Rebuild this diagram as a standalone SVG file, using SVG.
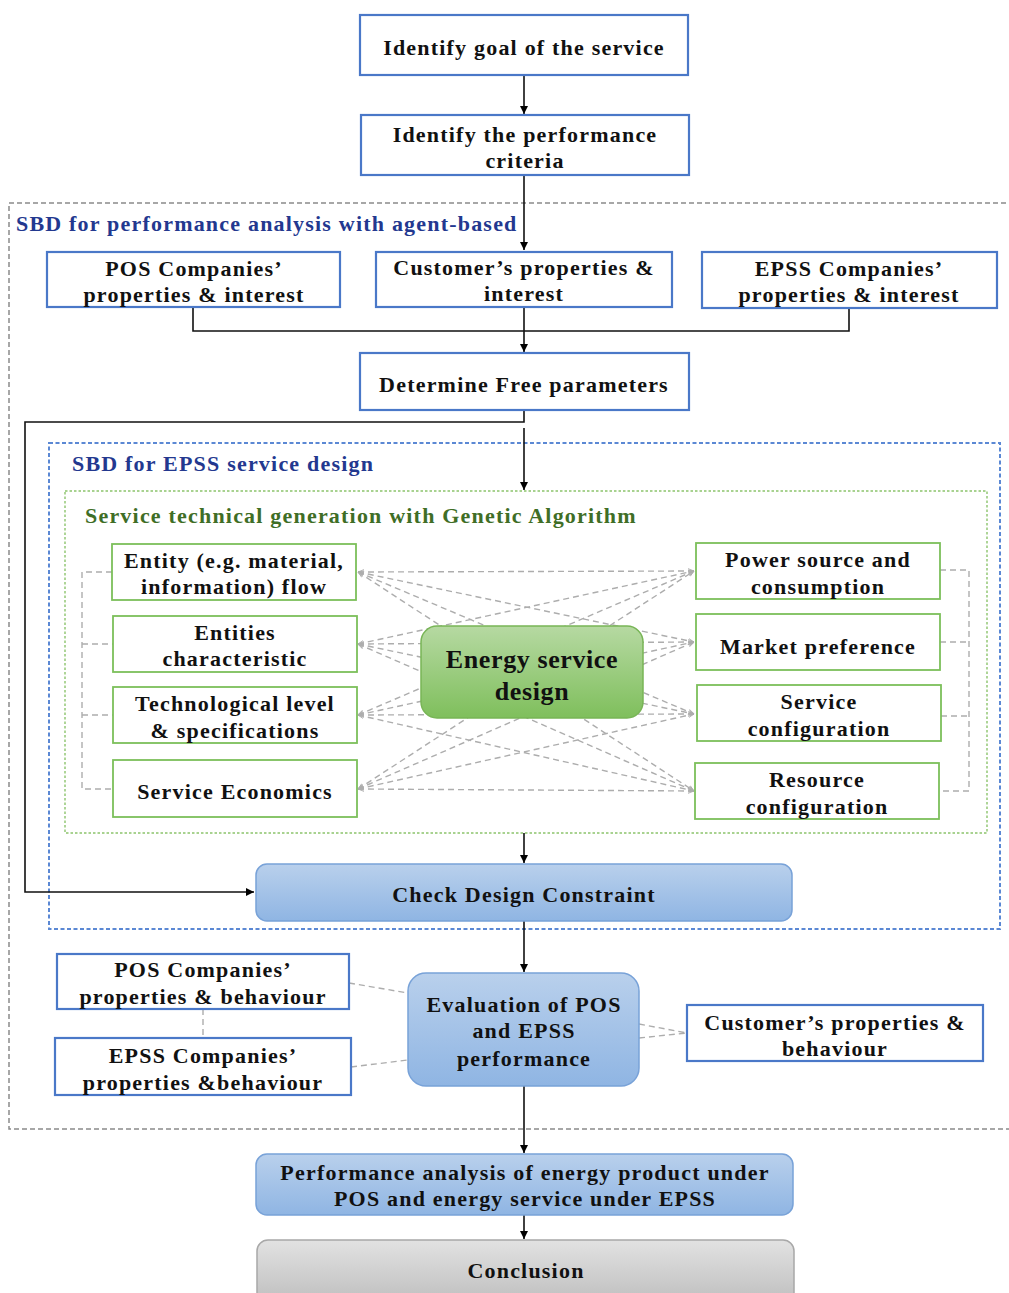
<svg xmlns="http://www.w3.org/2000/svg" width="1009" height="1293" viewBox="0 0 1009 1293">
  <defs>
    <linearGradient id="gBlue" x1="0" y1="0" x2="0" y2="1">
      <stop offset="0" stop-color="#B9D0EC"/>
      <stop offset="1" stop-color="#8FB5E3"/>
    </linearGradient>
    <linearGradient id="gGreen" x1="0" y1="0" x2="0" y2="1">
      <stop offset="0" stop-color="#B6D9A2"/>
      <stop offset="1" stop-color="#7FBF5C"/>
    </linearGradient>
    <linearGradient id="gGrey" x1="0" y1="0" x2="0" y2="1">
      <stop offset="0" stop-color="#E2E2E2"/>
      <stop offset="1" stop-color="#BEBEBE"/>
    </linearGradient>
    <marker id="arr" viewBox="0 0 10 10" refX="10" refY="5" markerWidth="8" markerHeight="8" markerUnits="userSpaceOnUse" orient="auto">
      <path d="M0,0 L10,5 L0,10 Z" fill="#000"/>
    </marker>
    <marker id="garr" viewBox="0 0 10 10" refX="10" refY="5" markerWidth="6" markerHeight="6" markerUnits="userSpaceOnUse" orient="auto-start-reverse">
      <path d="M0,1 L10,5 L0,9" fill="none" stroke="#ADADAD" stroke-width="1.5"/>
    </marker>
    <style>
      text { font-family: "Liberation Serif", "DejaVu Serif", serif; font-weight: bold; font-size: 22px; fill: #111; text-anchor: middle; letter-spacing: 1.2px; }
      .lbl { fill: #23388F; text-anchor: start; }
      .glbl { fill: #3F6E26; text-anchor: start; }
      .bbox { fill: #fff; stroke: #4A78C8; stroke-width: 2.2; }
      .gbox { fill: #fff; stroke: #7CBF5A; stroke-width: 1.8; }
      .blue { fill: url(#gBlue); stroke: #78A2D8; stroke-width: 1.5; }
      .green { fill: url(#gGreen); stroke: #78B556; stroke-width: 1.5; }
      .grey { fill: url(#gGrey); stroke: #A8A8A8; stroke-width: 1.5; }
      .flow { fill: none; stroke: #111; stroke-width: 1.6; }
      .dash { fill: none; stroke: #ADADAD; stroke-width: 1.4; stroke-dasharray: 6 4; }
      .big { font-size: 26px; letter-spacing: 0.6px; }
    </style>
  </defs>

  <rect width="1009" height="1293" fill="#fff"/>

  <!-- grouping frames -->
  <g id="frames">
    <rect x="9" y="203" width="1010" height="926" fill="none" stroke="#8A8A8A" stroke-width="1.5" stroke-dasharray="5 3"/>
    <text class="lbl" x="16" y="231">SBD for performance analysis with agent-based</text>
    <rect x="49" y="443" width="951" height="486" fill="none" stroke="#5B88D4" stroke-width="2" stroke-dasharray="4 2.5"/>
    <text class="lbl" x="72" y="471">SBD for EPSS service design</text>
    <rect x="65" y="491" width="922" height="342" fill="none" stroke="#8CC46C" stroke-width="1.4" stroke-dasharray="2.5 2"/>
    <text class="glbl" x="85" y="523">Service technical generation with Genetic Algorithm</text>
  </g>

  <!-- connectors -->
  <g id="connectors">
    <line class="flow" x1="524" y1="75" x2="524" y2="114" marker-end="url(#arr)"/>
    <line class="flow" x1="524" y1="175" x2="524" y2="250" marker-end="url(#arr)"/>
    <polyline class="flow" points="193,307 193,331 849,331 849,308"/>
    <line class="flow" x1="524" y1="307" x2="524" y2="352" marker-end="url(#arr)"/>
    <polyline class="flow" points="524,410 524,422 25,422 25,892 254,892" marker-end="url(#arr)"/>
    <line class="flow" x1="524" y1="428" x2="524" y2="490" marker-end="url(#arr)"/>
    <line class="flow" x1="524" y1="833" x2="524" y2="863" marker-end="url(#arr)"/>
    <line class="flow" x1="524" y1="921" x2="524" y2="972" marker-end="url(#arr)"/>
    <line class="flow" x1="524" y1="1086" x2="524" y2="1153" marker-end="url(#arr)"/>
    <line class="flow" x1="524" y1="1215" x2="524" y2="1239" marker-end="url(#arr)"/>

    <!-- side brackets -->
    <polyline class="dash" points="112,572 82,572 82,789 113,789"/>
    <line class="dash" x1="82" y1="644" x2="113" y2="644"/>
    <line class="dash" x1="82" y1="715" x2="113" y2="715"/>
    <polyline class="dash" points="940,570 969,570 969,791 939,791"/>
    <line class="dash" x1="940" y1="642" x2="969" y2="642"/>
    <line class="dash" x1="941" y1="716" x2="969" y2="716"/>

    <!-- all-to-all design links -->
    <g marker-start="url(#garr)" marker-end="url(#garr)">
      <line class="dash" x1="358" y1="572" x2="694" y2="571"/>
      <line class="dash" x1="358" y1="572" x2="694" y2="642"/>
      <line class="dash" x1="358" y1="572" x2="694" y2="714"/>
      <line class="dash" x1="358" y1="572" x2="694" y2="791"/>
      <line class="dash" x1="358" y1="644" x2="694" y2="571"/>
      <line class="dash" x1="358" y1="644" x2="694" y2="642"/>
      <line class="dash" x1="358" y1="644" x2="694" y2="714"/>
      <line class="dash" x1="358" y1="644" x2="694" y2="791"/>
      <line class="dash" x1="358" y1="715" x2="694" y2="571"/>
      <line class="dash" x1="358" y1="715" x2="694" y2="642"/>
      <line class="dash" x1="358" y1="715" x2="694" y2="714"/>
      <line class="dash" x1="358" y1="715" x2="694" y2="791"/>
      <line class="dash" x1="358" y1="789" x2="694" y2="571"/>
      <line class="dash" x1="358" y1="789" x2="694" y2="642"/>
      <line class="dash" x1="358" y1="789" x2="694" y2="714"/>
      <line class="dash" x1="358" y1="789" x2="694" y2="791"/>
    </g>

    <!-- evaluation links -->
    <line class="dash" x1="349" y1="983" x2="408" y2="993"/>
    <line class="dash" x1="351" y1="1067" x2="408" y2="1060"/>
    <line class="dash" x1="203" y1="1009" x2="203" y2="1038"/>
    <line class="dash" x1="639" y1="1024" x2="687" y2="1033"/>
    <line class="dash" x1="639" y1="1038" x2="687" y2="1033"/>
  </g>

  <!-- nodes -->
  <g id="goal">
    <rect class="bbox" x="360" y="15" width="328" height="60"/>
    <text x="524" y="55">Identify goal of the service</text>
  </g>
  <g id="criteria">
    <rect class="bbox" x="361" y="115" width="328" height="60"/>
    <text x="525" y="142">Identify the performance</text>
    <text x="525" y="168">criteria</text>
  </g>
  <g id="pos-interest">
    <rect class="bbox" x="47" y="252" width="293" height="55"/>
    <text x="194" y="276">POS Companies’</text>
    <text x="194" y="302">properties &amp; interest</text>
  </g>
  <g id="customer-interest">
    <rect class="bbox" x="376" y="252" width="296" height="55"/>
    <text x="524" y="275">Customer’s properties &amp;</text>
    <text x="524" y="301">interest</text>
  </g>
  <g id="epss-interest">
    <rect class="bbox" x="702" y="252" width="295" height="56"/>
    <text x="849" y="276">EPSS Companies’</text>
    <text x="849" y="302">properties &amp; interest</text>
  </g>
  <g id="free-parameters">
    <rect class="bbox" x="360" y="353" width="329" height="57"/>
    <text x="524" y="392">Determine Free parameters</text>
  </g>

  <g id="entity-flow">
    <rect class="gbox" x="112" y="544" width="244" height="56"/>
    <text x="234" y="568">Entity (e.g. material,</text>
    <text x="234" y="594">information) flow</text>
  </g>
  <g id="entities-characteristic">
    <rect class="gbox" x="113" y="616" width="244" height="56"/>
    <text x="235" y="640">Entities</text>
    <text x="235" y="666">characteristic</text>
  </g>
  <g id="technological-level">
    <rect class="gbox" x="113" y="687" width="244" height="56"/>
    <text x="235" y="711">Technological level</text>
    <text x="235" y="738">&amp; specifications</text>
  </g>
  <g id="service-economics">
    <rect class="gbox" x="113" y="760" width="244" height="57"/>
    <text x="235" y="799">Service Economics</text>
  </g>
  <g id="power-source">
    <rect class="gbox" x="696" y="543" width="244" height="56"/>
    <text x="818" y="567">Power source and</text>
    <text x="818" y="594">consumption</text>
  </g>
  <g id="market-preference">
    <rect class="gbox" x="696" y="614" width="244" height="56"/>
    <text x="818" y="654">Market preference</text>
  </g>
  <g id="service-configuration">
    <rect class="gbox" x="697" y="685" width="244" height="56"/>
    <text x="819" y="709">Service</text>
    <text x="819" y="736">configuration</text>
  </g>
  <g id="resource-configuration">
    <rect class="gbox" x="695" y="763" width="244" height="56"/>
    <text x="817" y="787">Resource</text>
    <text x="817" y="814">configuration</text>
  </g>
  <g id="energy-service-design">
    <rect class="green" x="421" y="626" width="222" height="92" rx="16"/>
    <text class="big" x="532" y="668">Energy service</text>
    <text class="big" x="532" y="700">design</text>
  </g>

  <g id="check-design-constraint">
    <rect class="blue" x="256" y="864" width="536" height="57" rx="11"/>
    <text x="524" y="902">Check Design Constraint</text>
  </g>

  <g id="pos-behaviour">
    <rect class="bbox" x="57" y="954" width="292" height="55"/>
    <text x="203" y="977">POS Companies’</text>
    <text x="203" y="1004">properties &amp; behaviour</text>
  </g>
  <g id="epss-behaviour">
    <rect class="bbox" x="55" y="1038" width="296" height="57"/>
    <text x="203" y="1063">EPSS Companies’</text>
    <text x="203" y="1090">properties &amp;behaviour</text>
  </g>
  <g id="evaluation">
    <rect class="blue" x="408" y="973" width="231" height="113" rx="18"/>
    <text x="524" y="1012">Evaluation of POS</text>
    <text x="524" y="1038">and EPSS</text>
    <text x="524" y="1066">performance</text>
  </g>
  <g id="customer-behaviour">
    <rect class="bbox" x="687" y="1005" width="296" height="56"/>
    <text x="835" y="1030">Customer’s properties &amp;</text>
    <text x="835" y="1056">behaviour</text>
  </g>

  <g id="performance-analysis">
    <rect class="blue" x="256" y="1154" width="537" height="61" rx="11"/>
    <text x="525" y="1180">Performance analysis of energy product under</text>
    <text x="525" y="1206">POS and energy service under EPSS</text>
  </g>
  <g id="conclusion">
    <rect class="grey" x="257" y="1240" width="537" height="64" rx="11"/>
    <text x="526" y="1278">Conclusion</text>
  </g>
</svg>
